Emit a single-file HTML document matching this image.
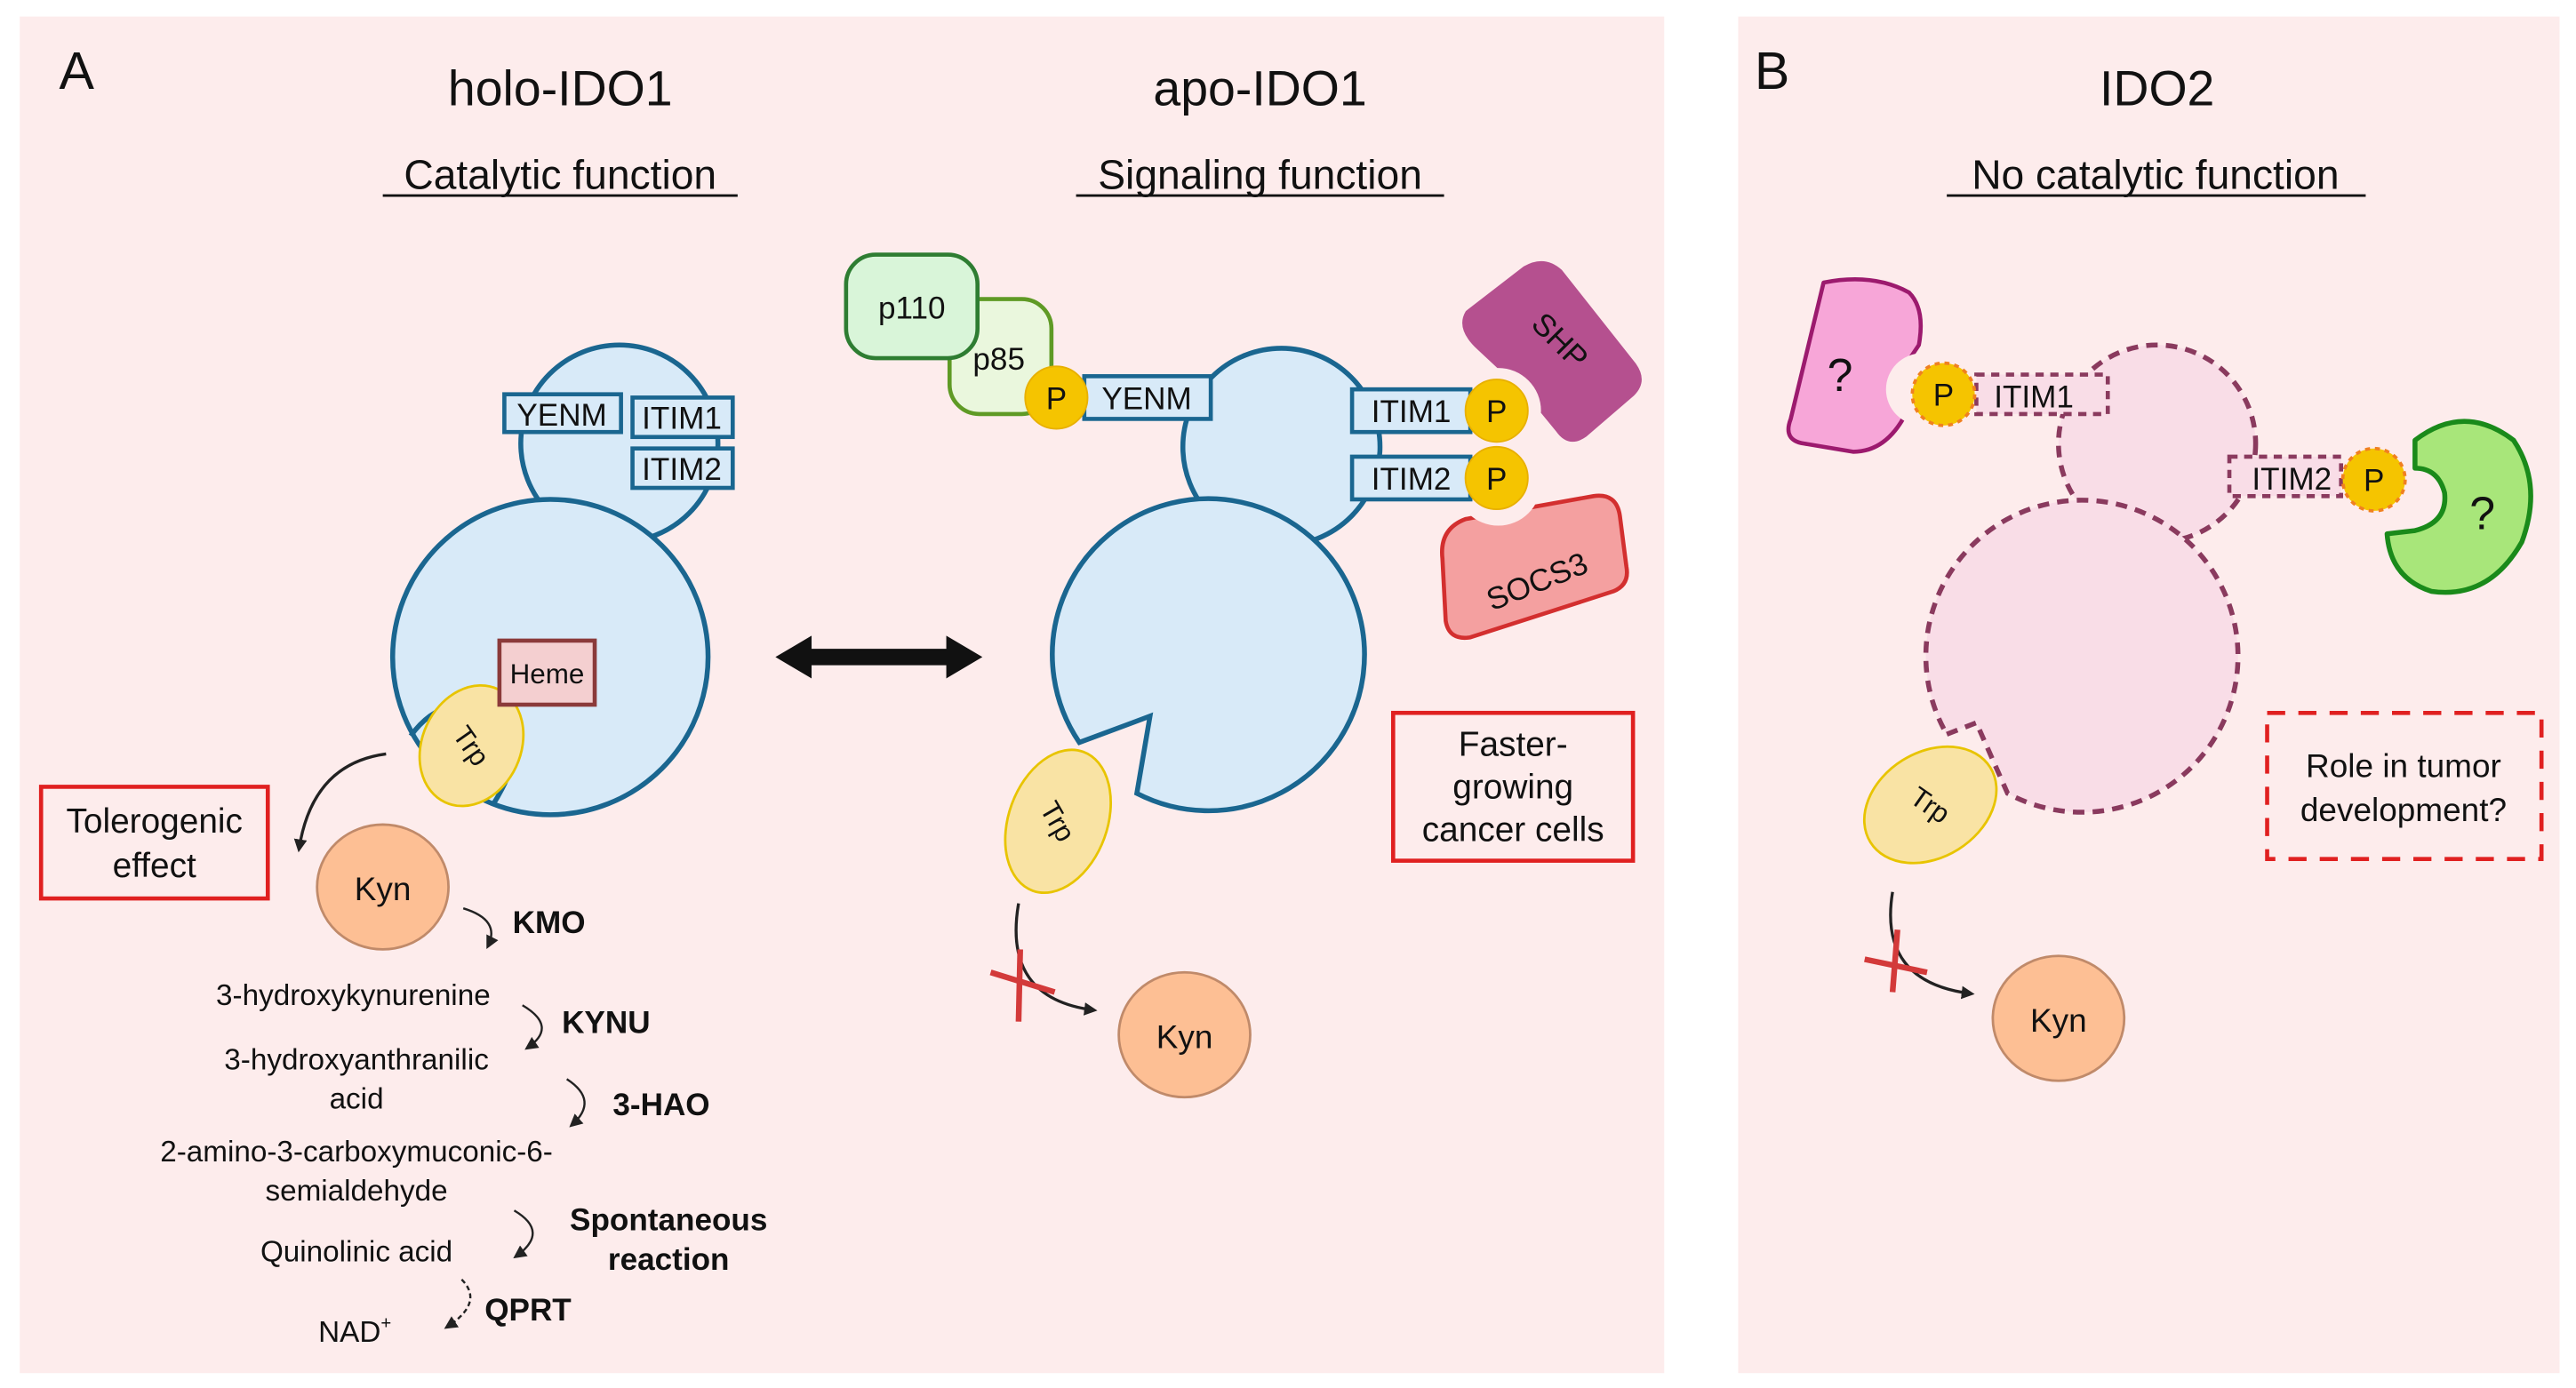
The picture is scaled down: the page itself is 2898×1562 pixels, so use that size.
<!DOCTYPE html>
<html><head><meta charset="utf-8"><style>
html,body{margin:0;padding:0;background:#fff;}
svg{display:block;}
text{font-family:"Liberation Sans",Arial,sans-serif;fill:#111;}
</style></head><body>
<svg width="2898" height="1562" viewBox="0 0 1568 845" xmlns="http://www.w3.org/2000/svg">
<defs>
<marker id="ah" markerWidth="8" markerHeight="8" refX="6" refY="4" orient="auto" markerUnits="userSpaceOnUse"><path d="M0,0 L8,4 L0,8 Z" fill="#222"/></marker>
</defs>
<rect width="1568" height="845" fill="#fff"/>
<rect x="12" y="10" width="1001" height="826" fill="#fdecec"/>
<rect x="1058" y="10" width="500" height="826" fill="#fdecec"/>

<!-- Titles -->
<text x="36" y="54" font-size="32">A</text>
<text x="341" y="64" font-size="30" text-anchor="middle">holo-IDO1</text>
<text x="767" y="64" font-size="30" text-anchor="middle">apo-IDO1</text>
<text x="341" y="115" font-size="25" text-anchor="middle">Catalytic function</text>
<line x1="233" y1="119" x2="449" y2="119" stroke="#111" stroke-width="1.5"/>
<text x="767" y="115" font-size="25" text-anchor="middle">Signaling function</text>
<line x1="655" y1="119" x2="879" y2="119" stroke="#111" stroke-width="1.5"/>
<text x="1068" y="54" font-size="32">B</text>
<text x="1313" y="64" font-size="30" text-anchor="middle">IDO2</text>
<text x="1312" y="115" font-size="25" text-anchor="middle">No catalytic function</text>
<line x1="1185" y1="119" x2="1440" y2="119" stroke="#111" stroke-width="1.5"/>

<!-- holo-IDO1 -->
<circle cx="377" cy="270" r="60" fill="#d8eaf8" stroke="#1a6690" stroke-width="3"/>
<circle cx="335" cy="400" r="96" fill="#d8eaf8" stroke="#1a6690" stroke-width="3"/>
<rect x="307" y="240" width="71" height="23" fill="#d8eaf8" stroke="#1a6690" stroke-width="2.5"/>
<text x="342" y="259" font-size="19" text-anchor="middle">YENM</text>
<rect x="385" y="242" width="61" height="24" fill="#d8eaf8" stroke="#1a6690" stroke-width="2.5"/>
<text x="415" y="261" font-size="19" text-anchor="middle">ITIM1</text>
<rect x="385" y="273" width="61" height="24" fill="#d8eaf8" stroke="#1a6690" stroke-width="2.5"/>
<text x="415" y="292" font-size="19" text-anchor="middle">ITIM2</text>
<path d="M250,448 Q270,420 305,432 Q325,450 300,490" fill="none" stroke="#1a6690" stroke-width="3"/>
<ellipse cx="287" cy="454" rx="30" ry="38" transform="rotate(25 287 454)" fill="#f9e3a4" stroke="#e8c400" stroke-width="1.5"/>
<text x="287" y="460" font-size="17" text-anchor="middle" transform="rotate(55 287 454)">Trp</text>
<rect x="304" y="390" width="58" height="39" fill="#f4cfd0" stroke="#8b3a3a" stroke-width="2.5"/>
<text x="333" y="416" font-size="17" text-anchor="middle">Heme</text>
<path d="M235,459 Q190,465 182,517" fill="none" stroke="#222" stroke-width="1.8" marker-end="url(#ah)"/>
<rect x="25" y="479" width="138" height="68" fill="none" stroke="#e02020" stroke-width="2.5"/>
<text x="94" y="507" font-size="21" text-anchor="middle">Tolerogenic</text>
<text x="94" y="534" font-size="21" text-anchor="middle">effect</text>
<ellipse cx="233" cy="540" rx="40" ry="38" fill="#fdbf94" stroke="#c08a6a" stroke-width="1.5"/>
<text x="233" y="548" font-size="20" text-anchor="middle">Kyn</text>

<!-- pathway -->
<path d="M282,553 Q305,560 297,576" fill="none" stroke="#222" stroke-width="1.3" marker-end="url(#ah)"/>
<text x="312" y="568" font-size="19" font-weight="bold">KMO</text>
<text x="215" y="612" font-size="18" text-anchor="middle">3-hydroxykynurenine</text>
<path d="M318,612 Q340,625 321,638" fill="none" stroke="#222" stroke-width="1.3" marker-end="url(#ah)"/>
<text x="342" y="629" font-size="19" font-weight="bold">KYNU</text>
<text x="217" y="651" font-size="18" text-anchor="middle">3-hydroxyanthranilic</text>
<text x="217" y="675" font-size="18" text-anchor="middle">acid</text>
<path d="M345,657 Q365,670 348,685" fill="none" stroke="#222" stroke-width="1.3" marker-end="url(#ah)"/>
<text x="373" y="679" font-size="19" font-weight="bold">3-HAO</text>
<text x="217" y="707" font-size="18" text-anchor="middle">2-amino-3-carboxymuconic-6-</text>
<text x="217" y="731" font-size="18" text-anchor="middle">semialdehyde</text>
<path d="M313,737 Q335,750 314,765" fill="none" stroke="#222" stroke-width="1.3" marker-end="url(#ah)"/>
<text x="407" y="749" font-size="19" font-weight="bold" text-anchor="middle">Spontaneous</text>
<text x="407" y="773" font-size="19" font-weight="bold" text-anchor="middle">reaction</text>
<text x="217" y="768" font-size="18" text-anchor="middle">Quinolinic acid</text>
<path d="M281,779 Q295,793 272,808" fill="none" stroke="#222" stroke-width="1.3" stroke-dasharray="3,2" marker-end="url(#ah)"/>
<text x="295" y="804" font-size="19" font-weight="bold">QPRT</text>
<text x="216" y="817" font-size="18" text-anchor="middle">NAD<tspan font-size="11" dy="-8">+</tspan></text>

<!-- double arrow -->
<path d="M472,400 L494,387 L494,395 L576,395 L576,387 L598,400 L576,413 L576,405 L494,405 L494,413 Z" fill="#111"/>

<!-- apo-IDO1 -->
<circle cx="780" cy="272" r="60" fill="#d8eaf8" stroke="#1a6690" stroke-width="3"/>
<path d="M657,452 L700,436 L692,483 A95,95 0 1 0 657,452 Z" fill="#d8eaf8" stroke="#1a6690" stroke-width="3" stroke-linejoin="miter"/>
<rect x="578" y="182" width="62" height="70" rx="18" fill="#eaf7dd" stroke="#5f9a25" stroke-width="2.5"/>
<rect x="515" y="155" width="80" height="63" rx="18" fill="#d9f5d9" stroke="#2e7d32" stroke-width="2.5"/>
<text x="555" y="194" font-size="19" text-anchor="middle">p110</text>
<text x="608" y="225" font-size="19" text-anchor="middle">p85</text>
<rect x="660" y="229" width="77" height="26" fill="#d8eaf8" stroke="#1a6690" stroke-width="2.5"/>
<text x="698" y="249" font-size="19" text-anchor="middle">YENM</text>
<circle cx="643" cy="242" r="19" fill="#f5c400" stroke="#e8b000"/>
<text x="643" y="249" font-size="19" text-anchor="middle">P</text>
<!-- SHP -->
<path d="M893,190 L928,163 Q940,156 950,165 L995,222 Q1002,232 994,240 L965,265 Q955,272 948,262 L930,240 L900,212 Q887,200 893,190 Z" fill="#b5508f" stroke="#b5508f" stroke-width="2" stroke-linejoin="round"/>
<circle cx="912" cy="250" r="26" fill="#fdecec"/>
<text x="945" y="212" font-size="19" fill="#111" text-anchor="middle" transform="rotate(45 945 212)">SHP</text>
<!-- SOCS3 -->
<path d="M878,340 Q876,322 892,316 L970,302 Q984,300 986,314 L990,345 Q992,356 982,360 L895,388 Q882,390 880,378 Z" fill="#f4a0a0" stroke="#d32f2f" stroke-width="2.5" stroke-linejoin="round"/>
<circle cx="912" cy="294" r="26" fill="#fdecec"/>
<text x="938" y="360" font-size="19" text-anchor="middle" transform="rotate(-22 938 360)">SOCS3</text>
<rect x="823" y="237" width="72" height="26" fill="#d8eaf8" stroke="#1a6690" stroke-width="2.5"/>
<text x="859" y="257" font-size="19" text-anchor="middle">ITIM1</text>
<rect x="823" y="278" width="72" height="26" fill="#d8eaf8" stroke="#1a6690" stroke-width="2.5"/>
<text x="859" y="298" font-size="19" text-anchor="middle">ITIM2</text>
<circle cx="911" cy="250" r="19" fill="#f5c400" stroke="#e8b000"/>
<text x="911" y="257" font-size="19" text-anchor="middle">P</text>
<circle cx="911" cy="291" r="19" fill="#f5c400" stroke="#e8b000"/>
<text x="911" y="298" font-size="19" text-anchor="middle">P</text>
<rect x="848" y="434" width="146" height="90" fill="none" stroke="#e02020" stroke-width="2.5"/>
<text x="921" y="460" font-size="21" text-anchor="middle">Faster-</text>
<text x="921" y="486" font-size="21" text-anchor="middle">growing</text>
<text x="921" y="512" font-size="21" text-anchor="middle">cancer cells</text>
<ellipse cx="644" cy="500" rx="30" ry="45" transform="rotate(20 644 500)" fill="#f9e3a4" stroke="#e8c400" stroke-width="1.5"/>
<text x="644" y="506" font-size="17" text-anchor="middle" transform="rotate(60 644 500)">Trp</text>
<path d="M620,550 Q610,608 666,615" fill="none" stroke="#222" stroke-width="1.8" marker-end="url(#ah)"/>
<line x1="603" y1="592" x2="642" y2="604" stroke="#d33a3a" stroke-width="3.5"/>
<line x1="621" y1="578" x2="620" y2="622" stroke="#d33a3a" stroke-width="3.5"/>
<ellipse cx="721" cy="630" rx="40" ry="38" fill="#fdbf94" stroke="#c08a6a" stroke-width="1.5"/>
<text x="721" y="638" font-size="20" text-anchor="middle">Kyn</text>

<!-- IDO2 -->
<circle cx="1313" cy="270" r="60" fill="#f9dde7" stroke="#8a3a5e" stroke-width="3" stroke-dasharray="7,5"/>
<path d="M1185,447 L1203,440 L1222,483 A95,95 0 1 0 1185,447 Z" fill="#f9dde7" stroke="#8a3a5e" stroke-width="3" stroke-dasharray="7,5"/>
<!-- pink ? -->
<path d="M1110,172 Q1140,166 1162,178 Q1172,188 1168,210 L1160,222 L1160,252 Q1148,275 1128,275 L1098,270 Q1085,268 1090,255 Z" fill="#f7a6d8" stroke="#9c1a6e" stroke-width="2.5" stroke-linejoin="round"/>
<circle cx="1170" cy="237" r="22" fill="#fdecec"/>
<text x="1120" y="238" font-size="28" text-anchor="middle">?</text>
<rect x="1203" y="228" width="80" height="24" fill="#f9dde7" stroke="#8a3a5e" stroke-width="2.5" stroke-dasharray="5,4"/>
<text x="1238" y="248" font-size="19" text-anchor="middle">ITIM1</text>
<circle cx="1183" cy="240" r="19" fill="#f5c400" stroke="#f08020" stroke-width="2" stroke-dasharray="3,3"/>
<text x="1183" y="247" font-size="19" text-anchor="middle">P</text>
<!-- green ? -->
<path d="M1470,268 Q1500,245 1530,268 Q1548,295 1535,330 Q1515,365 1480,360 Q1455,352 1453,325 L1470,323 Q1490,318 1488,300 Q1484,285 1470,285 Z" fill="#a8e67a" stroke="#1a8a1a" stroke-width="3" stroke-linejoin="round"/>
<text x="1511" y="322" font-size="28" text-anchor="middle">?</text>
<rect x="1357" y="278" width="68" height="24" fill="#f9dde7" stroke="#8a3a5e" stroke-width="2.5" stroke-dasharray="5,4"/>
<text x="1395" y="298" font-size="19" text-anchor="middle">ITIM2</text>
<circle cx="1445" cy="292" r="19" fill="#f5c400" stroke="#f08020" stroke-width="2" stroke-dasharray="3,3"/>
<text x="1445" y="299" font-size="19" text-anchor="middle">P</text>
<rect x="1380" y="434" width="167" height="89" fill="none" stroke="#e02020" stroke-width="2.5" stroke-dasharray="11,8"/>
<text x="1463" y="473" font-size="20" text-anchor="middle">Role in tumor</text>
<text x="1463" y="500" font-size="20" text-anchor="middle">development?</text>
<ellipse cx="1175" cy="490" rx="32" ry="43" transform="rotate(58 1175 490)" fill="#f9e3a4" stroke="#e8c400" stroke-width="1.5"/>
<text x="1175" y="496" font-size="17" text-anchor="middle" transform="rotate(35 1175 490)">Trp</text>
<path d="M1152,543 Q1143,598 1200,605" fill="none" stroke="#222" stroke-width="1.8" marker-end="url(#ah)"/>
<line x1="1135" y1="584" x2="1173" y2="592" stroke="#d33a3a" stroke-width="3.5"/>
<line x1="1155" y1="566" x2="1152" y2="604" stroke="#d33a3a" stroke-width="3.5"/>
<ellipse cx="1253" cy="620" rx="40" ry="38" fill="#fdbf94" stroke="#c08a6a" stroke-width="1.5"/>
<text x="1253" y="628" font-size="20" text-anchor="middle">Kyn</text>
</svg>
</body></html>
